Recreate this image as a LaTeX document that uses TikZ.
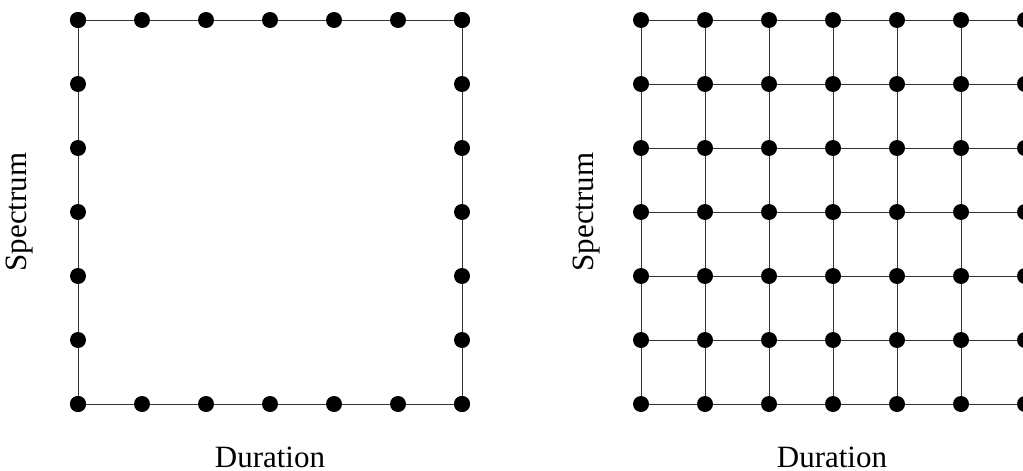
\documentclass[tikz,border=0pt]{standalone}
\usepackage{fontspec}
\setmainfont{Liberation Serif}
\begin{document}
\begin{tikzpicture}[x=1pt,y=-1pt,
  dot/.style={circle,fill=black,inner sep=0pt,minimum size=16pt},
  edge/.style={draw=black!80,line width=1pt},
  lab/.style={font=\fontsize{31}{36}\selectfont,inner sep=0pt}]
\useasboundingbox (0,0) rectangle (1023,471);
% left: border only
\foreach \i in {0,...,6} {
  \node[dot] (L-\i-0) at ({78+64*\i},20) {};
  \node[dot] (L-\i-6) at ({78+64*\i},404) {};
  \node[dot] (L-0-\i) at (78,{20+64*\i}) {};
  \node[dot] (L-6-\i) at (462,{20+64*\i}) {};
}
\foreach \i [count=\k] in {0,...,5} {
  \draw[edge] (L-\i-0) -- (L-\k-0);
  \draw[edge] (L-\i-6) -- (L-\k-6);
  \draw[edge] (L-0-\i) -- (L-0-\k);
  \draw[edge] (L-6-\i) -- (L-6-\k);
}
\node[lab,rotate=90] (LS) at (20,212) {Spectrum};
\node[lab,anchor=base] (LD) at (270,467) {Duration};
% right: full grid
\foreach \i in {0,...,6} {
  \foreach \j in {0,...,6} {
    \node[dot] (R-\i-\j) at ({641+64*\i},{20+64*\j}) {};
  }
}
\foreach \i [count=\k] in {0,...,5} {
  \foreach \j in {0,...,6} {
    \draw[edge] (R-\i-\j) -- (R-\k-\j);
    \draw[edge] (R-\j-\i) -- (R-\j-\k);
  }
}
\node[lab,rotate=90] (RS) at (587,212) {Spectrum};
\node[lab,anchor=base] (RD) at (832,467) {Duration};
\end{tikzpicture}
\end{document}
